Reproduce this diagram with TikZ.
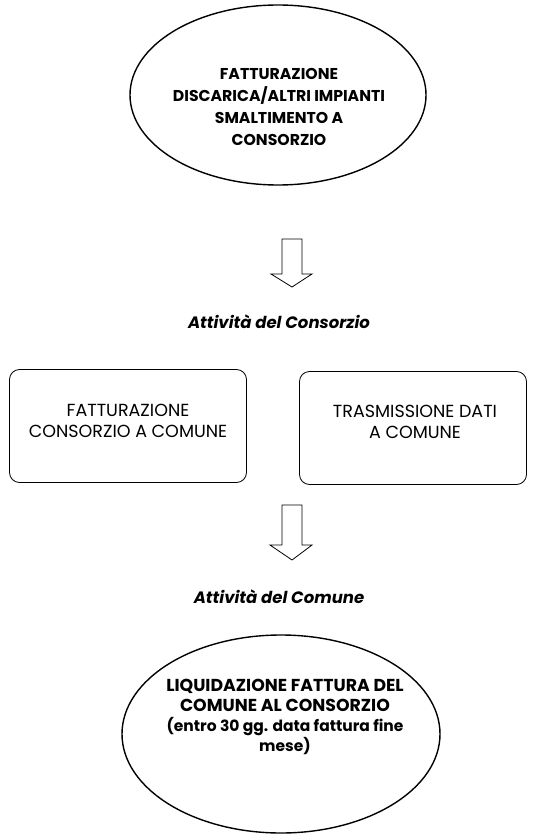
\documentclass[tikz,border=0pt]{standalone}
\usepackage{fontspec}
\setmainfont{Poppins}
\usetikzlibrary{shapes.geometric}
\tikzset{
  oval/.style={ellipse, draw, line width=1.4pt, inner sep=0pt},
  ovaltext/.style={align=center, inner sep=0pt, font=\fontsize{15.7}{22}\selectfont\bfseries},
  rbox/.style={draw, rounded corners=10pt, line width=0.8pt, inner sep=0pt},
  boxtext/.style={align=center, inner sep=0pt, font=\fontsize{17.5}{21}\selectfont},
  caption/.style={font=\fontsize{16.5}{20}\selectfont\bfseries\itshape},
  blockarrow/.style={draw, line width=0.8pt, fill=white}
}
\begin{document}
\begin{tikzpicture}[x=1pt,y=-1pt]
\useasboundingbox (0,0) rectangle (556,837);
\node[oval, minimum width=296, minimum height=180] (top) at (278,95) {};
\node[ovaltext] (toptext) at (279,107) {FATTURAZIONE\\DISCARICA/ALTRI IMPIANTI\\SMALTIMENTO A\\CONSORZIO};
\draw[blockarrow] (282,239) -- (302,239) -- (302,274) -- (312,274) -- (292,287) -- (271,274) -- (282,274) -- cycle;
\node[caption] (c1) at (279,322) {Attività del Consorzio};
\node[rbox, minimum width=237, minimum height=113] (left) at (128,426) {};
\node[boxtext] (lefttext) at (128,421) {FATTURAZIONE\\CONSORZIO A COMUNE};
\node[rbox, minimum width=227, minimum height=113] (right) at (413,428) {};
\node[boxtext] (righttext) at (415,422) {TRASMISSIONE DATI\\A COMUNE};
\draw[blockarrow] (282,505) -- (302,505) -- (302,545) -- (312,545) -- (292,560) -- (270,545) -- (282,545) -- cycle;
\node[caption] (c2) at (279,597) {Attività del Comune};
\node[oval, minimum width=318, minimum height=198] (bot) at (281,734) {};
\node[ovaltext, font=\fontsize{17.3}{20}\selectfont\bfseries] (bottext) at (285,717) {LIQUIDAZIONE FATTURA DEL\\COMUNE AL CONSORZIO\\{\fontsize{15.5}{20}\selectfont (entro 30 gg. data fattura fine}\\{\fontsize{15.5}{20}\selectfont mese)}};
\end{tikzpicture}
\end{document}
